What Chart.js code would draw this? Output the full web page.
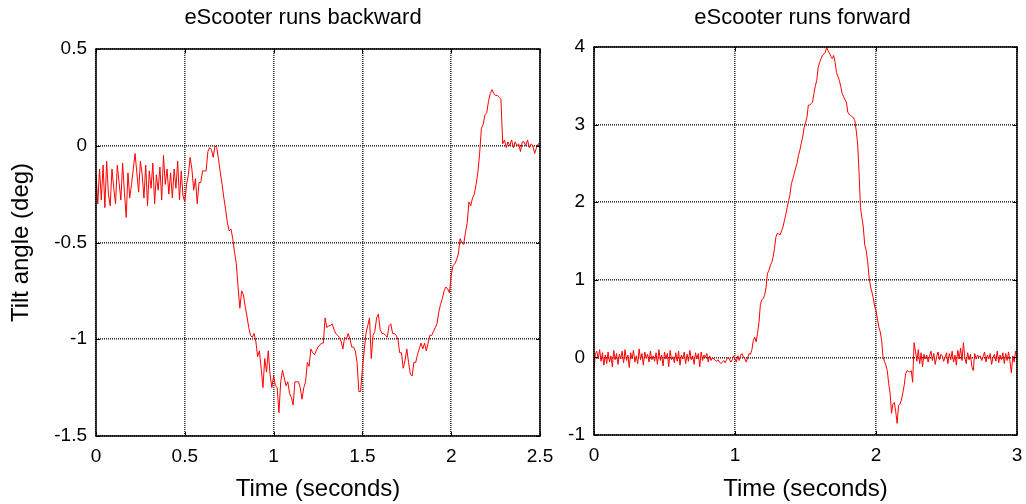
<!DOCTYPE html>
<html>
<head>
<meta charset="utf-8">
<script src="https://cdn.jsdelivr.net/npm/chart.js@4.4.1/dist/chart.umd.min.js"></script>
<style>
  html, body { margin: 0; padding: 0; background: #fff; }
  #wrap { position: relative; width: 1026px; height: 504px; overflow: hidden; }
  canvas { position: absolute; top: 0; }
  #back { left: 0; }
  #fwd { left: 545px; }
</style>
</head>
<body>
<div id="wrap">
  <canvas id="back" width="560" height="504"></canvas>
  <canvas id="fwd" width="481" height="504"></canvas>
</div>
<script>
// sampling step of both recordings (seconds)
const sampleStep = 0.01;

// tilt angle (deg), eScooter runs backward, 0 .. 2.5 s
const backwardTilt = [
  -0.15,-0.30,-0.12,-0.28,-0.10,-0.32,-0.08,-0.25,-0.31,-0.12,
  -0.22,-0.30,-0.10,-0.19,-0.28,-0.09,-0.24,-0.37,-0.14,-0.27,
  -0.20,-0.12,-0.04,-0.14,-0.24,-0.08,-0.15,-0.27,-0.10,-0.31,
  -0.13,-0.22,-0.09,-0.30,-0.15,-0.23,-0.11,-0.28,-0.05,-0.20,
  -0.12,-0.25,-0.14,-0.27,-0.12,-0.22,-0.08,-0.28,-0.13,-0.26,
  -0.29,-0.20,-0.15,-0.06,-0.12,-0.23,-0.17,-0.30,-0.19,-0.19,
  -0.13,-0.13,-0.13,-0.03,-0.01,-0.02,-0.06,0.00,-0.01,-0.07,
  -0.14,-0.20,-0.27,-0.33,-0.40,-0.44,-0.43,-0.48,-0.55,-0.61,
  -0.73,-0.84,-0.75,-0.77,-0.83,-0.88,-0.94,-0.98,-0.99,-0.97,
  -1.01,-1.09,-1.06,-1.15,-1.25,-1.10,-1.17,-1.06,-1.18,-1.25,
  -1.19,-1.24,-1.25,-1.38,-1.22,-1.16,-1.20,-1.24,-1.22,-1.28,
  -1.30,-1.34,-1.22,-1.22,-1.22,-1.25,-1.31,-1.25,-1.22,-1.12,
  -1.14,-1.05,-1.07,-1.08,-1.06,-1.04,-1.03,-1.02,-1.02,-0.89,
  -0.94,-0.93,-0.93,-0.92,-0.95,-0.97,-0.98,-0.99,-1.01,-1.05,
  -0.99,-1.00,-0.97,-1.00,-1.04,-1.04,-1.06,-1.12,-1.27,-1.27,
  -1.15,-1.06,-0.97,-0.93,-0.89,-1.10,-0.98,-0.96,-0.89,-0.87,
  -0.95,-0.97,-0.97,-0.98,-0.99,-0.93,-0.92,-0.97,-0.97,-0.98,
  -1.00,-1.07,-1.07,-1.15,-1.11,-1.05,-1.12,-1.18,-1.19,-1.12,
  -1.12,-1.08,-1.05,-1.02,-1.05,-1.02,-1.06,-1.02,-0.98,-0.98,
  -0.96,-0.94,-0.92,-0.86,-0.82,-0.79,-0.75,-0.73,-0.74,-0.76,
  -0.67,-0.62,-0.61,-0.59,-0.56,-0.48,-0.50,-0.51,-0.45,-0.40,
  -0.29,-0.31,-0.27,-0.25,-0.20,-0.14,-0.04,0.09,0.11,0.16,
  0.17,0.23,0.27,0.29,0.27,0.26,0.26,0.25,0.24,0.01,
  0.03,-0.01,0.02,0.00,0.03,-0.01,0.02,0.00,0.01,-0.03,
  0.02,0.02,0.00,0.03,-0.01,0.01,0.00,-0.04,-0.01,0.01,
  0.01
];

// tilt angle (deg), eScooter runs forward, 0 .. 3 s
const forwardTilt = [
  -0.15,0.05,0.08,-0.02,0.10,-0.05,0.06,-0.10,0.03,-0.08,
  0.07,-0.06,0.02,-0.12,0.09,-0.03,0.05,-0.09,0.04,-0.02,
  0.08,-0.07,0.10,-0.04,0.03,-0.13,0.06,-0.02,0.09,-0.06,
  0.02,-0.08,0.11,-0.03,0.05,-0.10,0.07,-0.01,0.04,-0.06,
  0.08,-0.03,0.02,-0.05,0.06,-0.09,0.10,-0.04,0.03,-0.11,
  0.07,-0.02,0.05,-0.12,0.09,-0.03,0.01,-0.07,0.06,-0.05,
  0.08,-0.10,0.03,-0.02,0.07,-0.08,0.04,-0.05,0.09,-0.03,
  0.02,-0.09,0.06,-0.02,0.05,-0.12,0.07,-0.04,0.03,0.00,
  0.05,-0.06,0.02,-0.04,0.00,-0.02,-0.04,-0.05,-0.03,-0.06,
  -0.08,-0.06,-0.04,-0.07,-0.03,0.00,-0.02,-0.06,-0.03,0.02,
  -0.02,-0.06,0.02,-0.04,0.03,0.05,0.00,-0.02,-0.06,0.00,
  0.05,0.04,0.10,0.22,0.26,0.20,0.31,0.45,0.68,0.74,
  0.76,0.80,0.90,1.08,1.12,1.18,1.22,1.29,1.40,1.55,
  1.60,1.59,1.58,1.63,1.68,1.76,1.84,1.93,2.02,2.10,
  2.24,2.30,2.37,2.44,2.50,2.60,2.67,2.76,2.84,2.96,
  3.02,3.09,3.25,3.25,3.27,3.29,3.40,3.50,3.57,3.74,
  3.80,3.85,3.89,3.91,3.93,4.00,3.95,3.92,3.88,3.85,
  3.89,3.80,3.67,3.62,3.57,3.49,3.40,3.36,3.32,3.29,
  3.16,3.13,3.12,3.10,3.09,3.05,2.92,2.75,2.37,1.93,
  1.80,1.68,1.45,1.38,1.25,1.05,0.92,0.85,0.77,0.66,
  0.60,0.50,0.39,0.33,0.22,0.00,-0.05,-0.10,-0.17,-0.34,
  -0.46,-0.72,-0.60,-0.58,-0.70,-0.85,-0.62,-0.60,-0.55,-0.46,
  -0.36,-0.21,-0.17,-0.18,-0.19,-0.17,-0.32,0.19,0.08,-0.05,
  0.10,-0.08,0.06,-0.12,0.04,-0.02,0.03,-0.06,0.02,0.08,
  -0.04,0.05,-0.09,0.01,0.07,-0.03,0.04,0.02,-0.05,0.00,
  0.06,-0.08,0.05,-0.03,0.08,-0.06,0.03,-0.10,0.09,-0.02,
  0.12,-0.04,0.19,0.00,-0.08,0.06,-0.03,0.04,-0.12,-0.17,
  0.05,-0.02,0.03,0.00,0.02,-0.04,0.01,0.07,-0.06,0.03,
  -0.02,0.05,-0.09,0.00,0.04,-0.05,0.08,-0.07,0.03,-0.03,
  0.06,-0.08,0.05,-0.04,0.07,-0.05,-0.20,0.02,-0.06,0.08,
  0.00
];

// tick values
const backwardTimeTicks = [0, 0.5, 1, 1.5, 2, 2.5];
const backwardTiltTicks = [-1.5, -1, -0.5, 0, 0.5];
const forwardTimeTicks = [0, 1, 2, 3];
const forwardTiltTicks = [-1, 0, 1, 2, 3, 4];

Chart.defaults.font.family = "'Liberation Sans', Arial, sans-serif";
Chart.defaults.color = "#000";

/* title, box round the plot and short inward ticks on all four sides */
const frameTicks = {
  id: "frameTicks",
  afterDraw(chart, args, opts) {
    const {ctx, chartArea: a, scales} = chart;
    ctx.save();
    ctx.strokeStyle = "#000";
    ctx.lineWidth = 1;
    ctx.beginPath();
    scales.x.ticks.forEach(t => {
      const px = Math.round(scales.x.getPixelForValue(t.value)) + 0.5;
      ctx.moveTo(px, a.bottom); ctx.lineTo(px, a.bottom - 4);
      ctx.moveTo(px, a.top); ctx.lineTo(px, a.top + 4);
    });
    scales.y.ticks.forEach(t => {
      const py = Math.round(scales.y.getPixelForValue(t.value)) + 0.5;
      ctx.moveTo(a.left, py); ctx.lineTo(a.left + 4, py);
      ctx.moveTo(a.right, py); ctx.lineTo(a.right - 4, py);
    });
    ctx.stroke();
    ctx.lineWidth = 1.5;
    ctx.strokeRect(a.left, a.top, a.right - a.left, a.bottom - a.top);

    ctx.fillStyle = "#000";
    ctx.font = "22px 'Liberation Sans', Arial, sans-serif";
    ctx.textAlign = "center";
    ctx.textBaseline = "middle";
    ctx.fillText(opts.text, (a.left + a.right) / 2 + opts.shift, 18);
    ctx.restore();
  }
};

function makeChart(id, values, xTicks, yTicks, opts) {
  const points = values.map((v, i) => ({ x: i * sampleStep, y: v }));
  return new Chart(document.getElementById(id), {
    type: "line",
    data: {
      datasets: [{
        data: points,
        borderColor: "#ff0000",
        borderWidth: 1,
        pointRadius: 0,
        tension: 0,
        fill: false
      }]
    },
    options: {
      responsive: false,
      animation: false,
      events: [],
      layout: { padding: { left: 0, right: opts.padRight, top: opts.padTop, bottom: 0 } },
      plugins: {
        legend: { display: false },
        tooltip: { enabled: false },
        frameTicks: { text: opts.title, shift: opts.titleShift }
      },
      scales: {
        x: {
          type: "linear",
          min: xTicks[0],
          max: xTicks[xTicks.length - 1],
          afterBuildTicks: s => { s.ticks = xTicks.map(v => ({ value: v })); },
          afterFit: s => { s.height = opts.xHeight; },
          ticks: {
            padding: 0,
            font: { size: 19 },
            callback: v => String(v)
          },
          grid: {
            color: "rgba(0,0,0,0.8)",
            lineWidth: 1.6,
            drawTicks: true,
            tickLength: 9,
            tickColor: "rgba(0,0,0,0)"
          },
          border: { display: false, dash: [1, 1] },
          title: {
            display: true,
            text: "Time (seconds)",
            font: { size: 24 },
            padding: { top: 0, bottom: 0 }
          }
        },
        y: {
          type: "linear",
          min: yTicks[0],
          max: yTicks[yTicks.length - 1],
          afterBuildTicks: s => { s.ticks = yTicks.map(v => ({ value: v })); },
          afterFit: s => { s.width = opts.yWidth; },
          ticks: {
            padding: 0,
            font: { size: 19 },
            callback: v => String(v)
          },
          grid: {
            color: "rgba(0,0,0,0.8)",
            lineWidth: 1.6,
            drawTicks: true,
            tickLength: 9,
            tickColor: "rgba(0,0,0,0)"
          },
          border: { display: false, dash: [1, 1] },
          title: {
            display: opts.yTitle !== "",
            text: opts.yTitle,
            font: { size: 24 },
            padding: { top: 7, bottom: 0 }
          }
        }
      }
    },
    plugins: [frameTicks]
  });
}

makeChart("back", backwardTilt, backwardTimeTicks, backwardTiltTicks, {
  title: "eScooter runs backward",
  titleShift: -15,
  yTitle: "Tilt angle (deg)",
  padRight: 20,
  padTop: 49,
  xHeight: 68,
  yWidth: 96
});

makeChart("fwd", forwardTilt, forwardTimeTicks, forwardTiltTicks, {
  title: "eScooter runs forward",
  titleShift: -3,
  yTitle: "",
  padRight: 9,
  padTop: 47,
  xHeight: 69,
  yWidth: 49
});
</script>
</body>
</html>
